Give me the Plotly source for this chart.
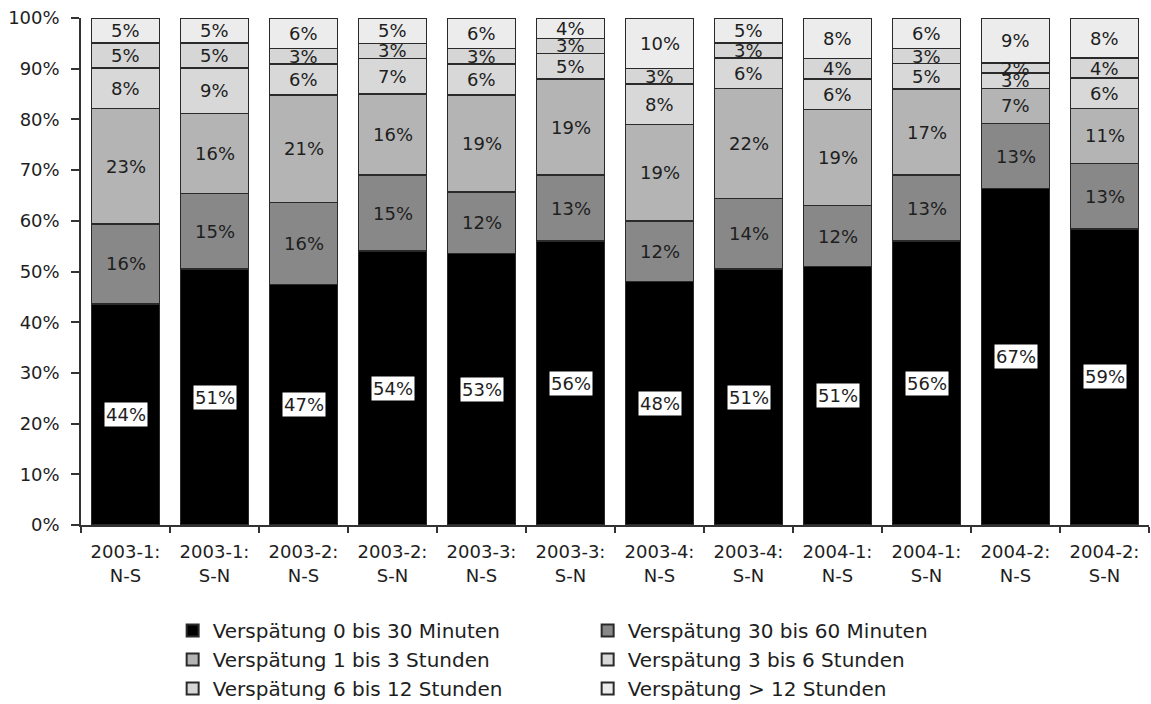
import plotly.graph_objects as go

# Periods and directions (Nord-Süd / Süd-Nord)
categories = [
    "2003-1:<br>N-S", "2003-1:<br>S-N", "2003-2:<br>N-S", "2003-2:<br>S-N",
    "2003-3:<br>N-S", "2003-3:<br>S-N", "2003-4:<br>N-S", "2003-4:<br>S-N",
    "2004-1:<br>N-S", "2004-1:<br>S-N", "2004-2:<br>N-S", "2004-2:<br>S-N",
]

# Share of trains per delay class, in percent
delay_0_30 = [44, 51, 47, 54, 53, 56, 48, 51, 51, 56, 67, 59]
delay_30_60 = [16, 15, 16, 15, 12, 13, 12, 14, 12, 13, 13, 13]
delay_1_3h = [23, 16, 21, 16, 19, 19, 19, 22, 19, 17, 7, 11]
delay_3_6h = [8, 9, 6, 7, 6, 5, 8, 6, 6, 5, 3, 6]
delay_6_12h = [5, 5, 3, 3, 3, 3, 3, 3, 4, 3, 2, 4]
delay_12h = [5, 5, 6, 5, 6, 4, 10, 5, 8, 6, 9, 8]

series = [
    ("Verspätung 0 bis 30 Minuten", delay_0_30, "#000000"),
    ("Verspätung 30 bis 60 Minuten", delay_30_60, "#888888"),
    ("Verspätung 1 bis 3 Stunden", delay_1_3h, "#b4b4b4"),
    ("Verspätung 3 bis 6 Stunden", delay_3_6h, "#d8d8d8"),
    ("Verspätung 6 bis 12 Stunden", delay_6_12h, "#d6d6d6"),
    ("Verspätung > 12 Stunden", delay_12h, "#ececec"),
]

FONT = "DejaVu Sans, Arial, sans-serif"
TEXT = "#1e1e1e"

fig = go.Figure()
for name, vals, color in series:
    fig.add_trace(go.Bar(
        x=categories, y=vals, name=name,
        marker=dict(color=color, line=dict(color="#2a2a2a", width=1.5)),
    ))

# Segment labels, placed at the centre of each normalised segment
totals = [sum(s[1][i] for s in series) for i in range(len(categories))]
base = [0.0] * len(categories)
for k, (name, vals, color) in enumerate(series):
    for i, v in enumerate(vals):
        h = v * 100.0 / totals[i]
        mid = base[i] + h / 2
        base[i] += h
        fig.add_annotation(
            x=categories[i], y=mid, text=f"{v}%", showarrow=False,
            font=dict(family=FONT, size=18, color=TEXT),
            bgcolor="#ffffff" if k == 0 else None,
            borderpad=1,
        )

fig.update_layout(
    barmode="stack", barnorm="percent", bargap=0.235,
    width=1151, height=704,
    margin=dict(l=81, r=2, t=18, b=179, autoexpand=False),
    paper_bgcolor="#ffffff", plot_bgcolor="#ffffff",
    font=dict(family=FONT, size=18, color=TEXT),
    showlegend=True,
    legend=dict(
        orientation="h", xref="container", yref="container",
        x=0.150, y=0.132, xanchor="left", yanchor="top",
        entrywidth=370, entrywidthmode="pixels", traceorder="normal",
        font=dict(family=FONT, size=20, color=TEXT),
        itemsizing="constant", tracegroupgap=0,
    ),
    xaxis=dict(
        showline=True, linecolor="#333333", linewidth=1.5,
        ticks="outside", ticklen=6, tickcolor="#333333", tickwidth=1.5,
        tickson="boundaries", showgrid=False, ticklabelstandoff=10,
        tickfont=dict(family=FONT, size=18, color=TEXT),
    ),
    yaxis=dict(
        range=[0, 100], tickvals=list(range(0, 101, 10)),
        ticktext=[f"{t}%" for t in range(0, 101, 10)],
        showline=True, linecolor="#333333", linewidth=1.5,
        ticks="outside", ticklen=8, tickcolor="#333333", tickwidth=1.5,
        showgrid=False, zeroline=False, ticklabelstandoff=8,
        tickfont=dict(family=FONT, size=18, color=TEXT),
    ),
)

fig.write_html("out.html")
